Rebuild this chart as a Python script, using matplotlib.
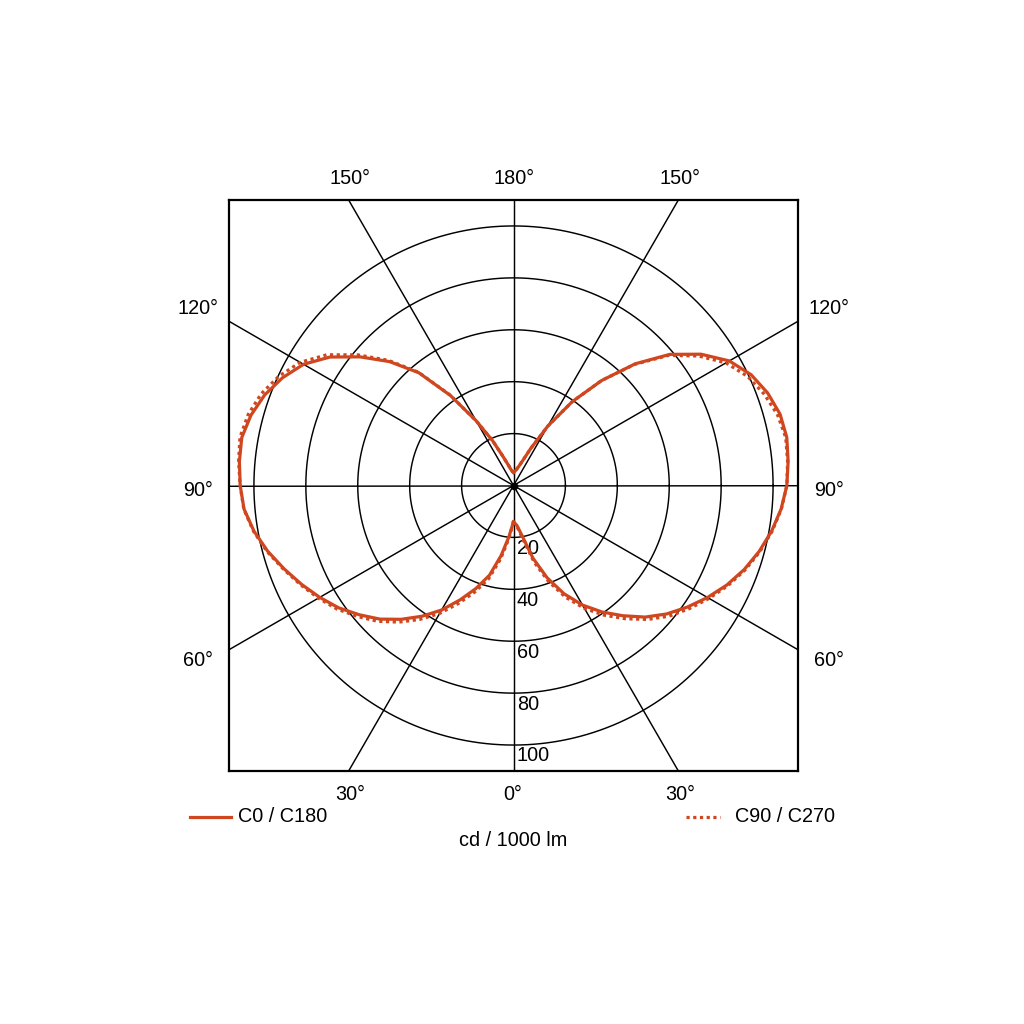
import numpy as np
import matplotlib
matplotlib.use("Agg")
import matplotlib.pyplot as plt
from matplotlib.lines import Line2D

plt.rcParams['font.family'] = ['Liberation Sans', 'DejaVu Sans']

# gamma angles (deg, 0 = nadir, 180 = zenith)
gamma = [0, 5, 10, 15, 20, 25, 30, 35, 40, 45, 50, 55, 60, 65, 70, 75, 80, 85, 90,
         95, 100, 105, 110, 115, 120, 125, 130, 135, 140, 145, 150, 155, 160, 165, 170, 175, 180]

# intensities in cd / 1000 lm
c0 = [14, 15.5, 20, 29, 37.8, 46, 53.2, 59.5, 65.5, 71.7, 77, 81.7, 86.3, 90.7, 94.6, 98, 101, 103.5, 105.3,
      106.2, 106.9, 106.3, 104.2, 101, 96, 88.2, 78.6, 66.3, 52.8, 39.4, 26.4, 15.8, 10, 7.5, 6.2, 5.4, 5]
c90 = [14, 16, 21, 30.5, 39.3, 47.5, 54.7, 61, 67, 73, 78.3, 82.7, 87, 91.2, 95, 98.3, 101.2, 103.6, 105.3,
       106, 106.5, 105.3, 102.8, 99.5, 94.5, 87, 78, 66, 52.8, 39.4, 26.4, 15.8, 10, 7.5, 6.2, 5.4, 5]
c180 = [14, 19.7, 27.4, 35.8, 42.2, 48.6, 55.4, 61.5, 67.3, 72.8, 77.5, 82.2, 86.2, 90.1, 94, 98, 101.5, 104.2, 105.3,
        106, 106.3, 104.7, 102, 98.2, 93.4, 86.3, 77.1, 67.5, 56.7, 42.3, 28.8, 19, 12, 8.5, 6.5, 5.5, 5]
c270 = [14, 20.5, 28.8, 37.3, 43.7, 50.1, 56.9, 63, 68.7, 74, 78.5, 83, 86.8, 90.5, 94.3, 98.3, 101.7, 104.3, 105.3,
        106.3, 107, 105.8, 103.4, 99.7, 94.9, 87.8, 78.3, 68.2, 57, 42.5, 28.8, 19, 12, 8.5, 6.5, 5.5, 5]

rings = [20, 40, 60, 80, 100]
ring_labels = ["20", "40", "60", "80", "100"]
spoke_angles = [0, 30, 60, 90, 120, 150]

top_labels = ["150°", "180°", "150°"]
side_labels = ["120°", "90°", "60°"]
bottom_labels = ["30°", "0°", "30°"]

legend_solid = "C0 / C180"
legend_dotted = "C90 / C270"
unit_label = "cd / 1000 lm"

col = '#d0461e'
FS = 14.3

fig = plt.figure(figsize=(10.24, 10.24), dpi=100)
ax = fig.add_axes([229/1024, 1 - 771/1024, 569/1024, 571/1024])
XL, YL = 109.6, 110.0
ax.set_xlim(-XL, XL)
ax.set_ylim(-YL, YL)
ax.set_xticks([])
ax.set_yticks([])
for s in ax.spines.values():
    s.set_linewidth(1.6)
    s.set_color('black')

# rings
t = np.linspace(0, 2 * np.pi, 721)
for r in rings:
    ax.plot(r * np.cos(t), r * np.sin(t), color='black', lw=1.05, zorder=1)
# spokes
L = 300
for a in spoke_angles:
    ar = np.deg2rad(a)
    ax.plot([-L * np.sin(ar), L * np.sin(ar)], [-L * np.cos(ar), L * np.cos(ar)],
            color='black', lw=1.05, zorder=1)
ax.plot([0], [0], 'o', color='black', ms=4.5, zorder=2)

# ring labels
for r, lab in zip(rings, ring_labels):
    ax.text(1.3, -r - 4.2, lab, ha='left', va='center', fontsize=FS, zorder=3)

g = np.deg2rad(np.array(gamma))

def right(vals):
    v = np.array(vals)
    return v * np.sin(g), -v * np.cos(g)

def left(vals):
    v = np.array(vals)
    return -v * np.sin(g), -v * np.cos(g)

x, y = right(c90)
ax.plot(x, y, color=col, lw=2.3, ls=(0, (1, 1.1)), zorder=4)
x, y = left(c270)
ax.plot(x, y, color=col, lw=2.3, ls=(0, (1, 1.1)), zorder=4)
x, y = right(c0)
ax.plot(x, y, color=col, lw=2.3, zorder=5, solid_joinstyle='round')
x, y = left(c180)
ax.plot(x, y, color=col, lw=2.3, zorder=5, solid_joinstyle='round')

# angle labels (figure pixel coords)
def ftext(px, py, s, **kw):
    fig.text(px / 1024, 1 - py / 1024, s, ha='center', va='center', fontsize=FS, **kw)

for px, s in zip([350, 514, 680], top_labels):
    ftext(px, 178, s)
for py, s in zip([308, 490, 660], side_labels):
    ftext(198, py, s)
    ftext(829, py, s)
for px, s in zip([350, 513, 680], bottom_labels):
    ftext(px, 795, s)

# legend
fig.add_artist(Line2D([190 / 1024, 231 / 1024], [1 - 817 / 1024] * 2, color=col, lw=2.3))
fig.text(238 / 1024, 1 - 817 / 1024, legend_solid, ha='left', va='center', fontsize=FS)
fig.add_artist(Line2D([686 / 1024, 720 / 1024], [1 - 817 / 1024] * 2, color=col, lw=2.3,
                      ls=(0, (1, 1.1))))
fig.text(835 / 1024, 1 - 817 / 1024, legend_dotted, ha='right', va='center', fontsize=FS)
fig.text(513 / 1024, 1 - 840 / 1024, unit_label, ha='center', va='center', fontsize=FS)

fig.savefig('out.png', dpi=100, facecolor='white')
